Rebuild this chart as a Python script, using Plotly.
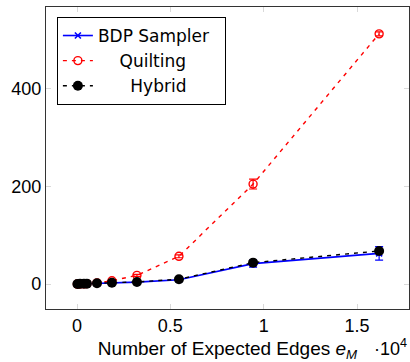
import plotly.graph_objects as go

# Expected edges e_M (raw values; axis shown in units of 10^4)
edges = [20, 160, 370, 530, 1070, 1870, 3210, 5460, 9430, 16180]

bdp = [0.2, 0.4, 0.6, 0.8, 1.5, 2.5, 4, 9, 42, 63]
bdp_err = [0.1, 0.1, 0.1, 0.2, 0.3, 0.5, 1, 2, 7, 14]

quilting = [0.1, 0.3, 0.6, 1, 2.5, 7, 18, 57, 205, 513]
quilting_err = [0.1, 0.1, 0.1, 0.2, 0.5, 1, 2, 3, 10, 4]

hybrid = [0.3, 0.5, 0.7, 1, 1.7, 3, 4.5, 10, 44, 68]
hybrid_err = [0.1, 0.1, 0.1, 0.2, 0.3, 0.5, 1, 2, 6, 12]

x_tickvals = [0, 5000, 10000, 15000]
x_ticktext = ["0", "0.5", "1", "1.5"]
y_tickvals = [0, 200, 400]

FONT = "Liberation Sans"
LEG_FONT = "DejaVu Sans"
NB = "\u00a0"

fig = go.Figure()
fig.add_trace(go.Scatter(
    x=edges, y=bdp, name="BDP Sampler" + NB * 2, mode="lines+markers",
    line=dict(color="#0000ff", width=1.6),
    marker=dict(symbol="x-thin", size=6, color="#0000ff", line=dict(color="#0000ff", width=1.6)),
    error_y=dict(type="data", array=bdp_err, color="#0000ff", thickness=1.2, width=4),
))
fig.add_trace(go.Scatter(
    x=edges, y=quilting, name=NB * 4 + "Quilting", mode="lines+markers",
    line=dict(color="#ff0000", width=1.4, dash="4px,5px"),
    marker=dict(symbol="circle-open", size=8, color="#ff0000", line=dict(color="#ff0000", width=1.4)),
    error_y=dict(type="data", array=quilting_err, color="#ff0000", thickness=1.2, width=4),
))
fig.add_trace(go.Scatter(
    x=edges, y=hybrid, name=NB * 6 + "Hybrid", mode="lines+markers",
    line=dict(color="#000000", width=1.4, dash="4px,5px"),
    marker=dict(symbol="circle", size=10, color="#000000"),
    error_y=dict(type="data", array=hybrid_err, color="#000000", thickness=1.0, width=3, visible=False),
))

axis_common = dict(
    showgrid=False, zeroline=False, showline=True, linecolor="#333333", linewidth=1.2,
    mirror="allticks", ticks="inside", ticklen=5, tickcolor="#d9d9d9", tickwidth=1.2,
    tickfont=dict(family=FONT, size=18, color="#000000"),
)

fig.update_layout(
    width=410, height=362,
    margin=dict(l=46, r=1, t=7, b=53),
    paper_bgcolor="white", plot_bgcolor="white",
    font=dict(family=FONT, size=18, color="#000000"),
    showlegend=True,
    legend=dict(
        x=0.03, y=0.967, xanchor="left", yanchor="top",
        bordercolor="#000000", borderwidth=1, bgcolor="white",
        font=dict(family=LEG_FONT, size=17, color="#000000"),
        tracegroupgap=0, itemwidth=30,
    ),
    xaxis=dict(
        range=[-1660, 17780], tickvals=x_tickvals, ticktext=x_ticktext,
        title=dict(text="Number of Expected Edges <i>e<sub>M</sub></i>",
                   font=dict(family=FONT, size=19), standoff=8),
        **axis_common,
    ),
    yaxis=dict(
        range=[-51, 568], tickvals=y_tickvals,
        **axis_common,
    ),
)

fig.add_annotation(
    text="·10<sup>4</sup>", xref="paper", yref="paper", x=1.0, y=-0.128,
    xanchor="right", yanchor="middle", showarrow=False,
    font=dict(family=FONT, size=18, color="#000000"),
)

fig.write_html("out.html")
